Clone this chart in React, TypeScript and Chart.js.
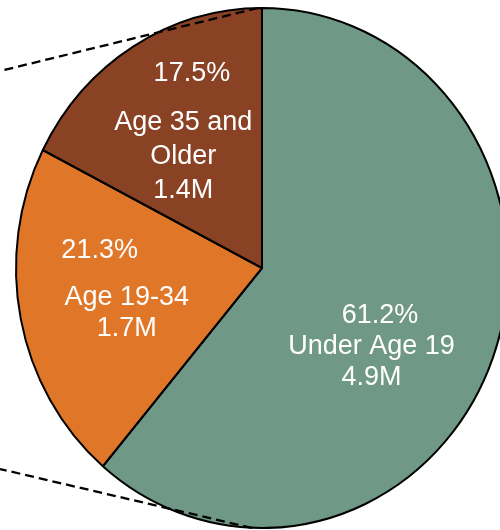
import React, { useEffect, useRef } from "react";
import { Chart, registerables } from "chart.js";

Chart.register(...registerables);

const categories = ["Under Age 19", "Age 19-34", "Age 35 and\nOlder"];
const shares = [61.2, 21.3, 17.5];
const counts = ["4.9M", "1.7M", "1.4M"];
const colors = ["#6F9886", "#E07628", "#8A4225"];

const FONT = "27px 'Liberation Sans', Arial, sans-serif";
const SQUASH = 260 / 246;

export default function App() {
  const ref = useRef<HTMLCanvasElement | null>(null);
  useEffect(() => {
    document.body.style.margin = "0";
    document.body.style.overflow = "hidden";
    const canvas = ref.current!;

    const ellipsePlugin = {
      id: "ellipse",
      beforeDatasetsDraw(chart: any) {
        const arc = chart.getDatasetMeta(0).data[0];
        const ctx = chart.ctx;
        ctx.save();
        ctx.translate(arc.x, arc.y);
        ctx.scale(1, SQUASH);
        ctx.translate(-arc.x, -arc.y);
      },
      afterDatasetsDraw(chart: any) {
        chart.ctx.restore();
      },
    };

    // per-slice label layout relative to pie centre (as fractions of radius)
    const labelLayout = [
      { pct: [0.48, 0.195], body: [0.445, 0.32], gap: 31 },
      { pct: [-0.66, -0.07], body: [-0.55, 0.12], gap: 31 },
      { pct: [-0.285, -0.789], body: [-0.32, -0.593], gap: 34 },
    ];

    const labelPlugin = {
      id: "labels",
      afterDraw(chart: any) {
        const meta = chart.getDatasetMeta(0);
        const arc = meta.data[0];
        const cx = arc.x, cy = arc.y, r = arc.outerRadius;
        const ctx = chart.ctx;
        ctx.save();
        // connector lines (pie-of-pie style)
        ctx.setLineDash([9, 5]);
        ctx.lineWidth = 2.3;
        ctx.strokeStyle = "#000";
        ctx.beginPath();
        ctx.moveTo(cx - 4, cy - r * SQUASH);
        ctx.lineTo(0, 71);
        ctx.moveTo(cx - 10, cy + r * SQUASH);
        ctx.lineTo(0, 469);
        ctx.stroke();
        ctx.setLineDash([]);
        ctx.fillStyle = "#fff";
        ctx.font = FONT;
        ctx.textAlign = "center";
        ctx.textBaseline = "middle";
        shares.forEach((s, i) => {
          const L = labelLayout[i];
          ctx.fillText(s.toFixed(1) + "%", cx + L.pct[0] * r, cy + L.pct[1] * r);
          const lines = categories[i].split("\n").concat([counts[i]]);
          const bx = cx + L.body[0] * r;
          const by = cy + L.body[1] * r;
          lines.forEach((ln, j) => {
            ctx.fillText(ln, bx, by + j * L.gap);
          });
        });
        ctx.restore();
      },
    };

    const chart = new Chart(canvas, {
      type: "pie",
      data: {
        labels: categories.map((c) => c.replace("\n", " ")),
        datasets: [
          {
            data: shares,
            backgroundColor: colors,
            borderColor: "#000",
            borderWidth: 2,
            radius: 246,
            clip: false,
          } as any,
        ],
      },
      options: {
        animation: false,
        responsive: true,
        maintainAspectRatio: false,
        layout: { padding: { left: 24, top: 6, right: 0, bottom: 0 } },
        plugins: {
          legend: { display: false },
          tooltip: { enabled: false },
        },
      },
      plugins: [ellipsePlugin, labelPlugin],
    });
    return () => chart.destroy();
  }, []);

  return (
    <div style={{ position: "absolute", left: 0, top: 0, width: 500, height: 530 }}>
      <canvas ref={ref} />
    </div>
  );
}
